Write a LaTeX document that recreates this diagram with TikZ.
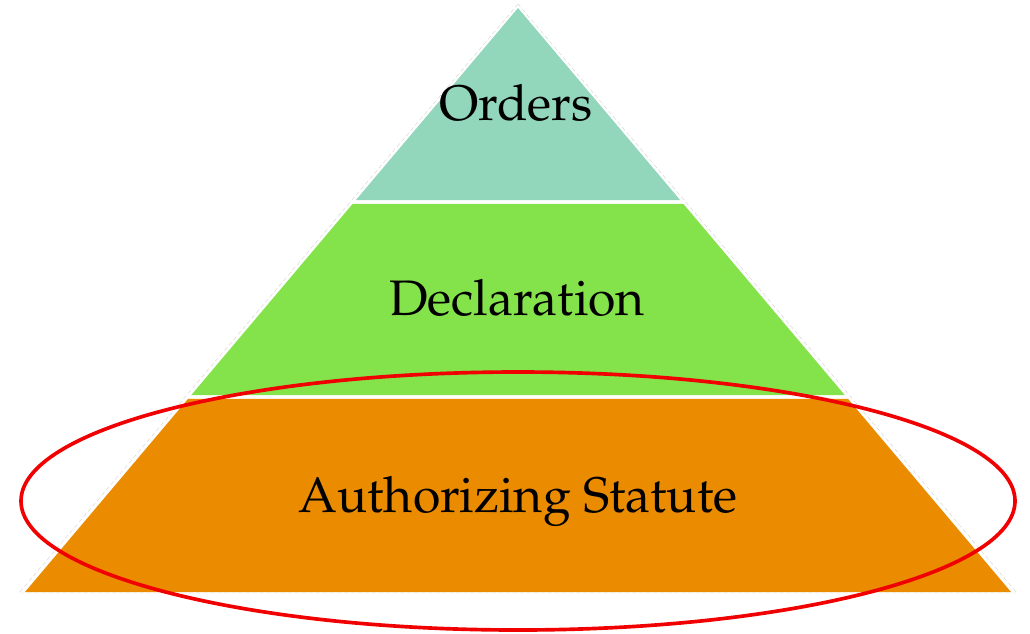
\documentclass[tikz,border=0pt]{standalone}
\usepackage[T1]{fontenc}
\usepackage{mathpazo}
\usepackage{tikz}
\usetikzlibrary{calc}

\definecolor{ordersmint}{RGB}{146,214,188}
\definecolor{declgreen}{RGB}{132,226,74}
\definecolor{statorange}{RGB}{234,139,0}
\definecolor{ringred}{RGB}{240,0,0}

\tikzset{
  layertext/.style={anchor=base, font=\fontsize{35.5}{38}\selectfont, text=black},
  outline/.style={draw=gray!35, line width=0.3pt, densely dashed}
}

\begin{document}
\begin{tikzpicture}[x=0.025cm, y=-0.025cm]
\useasboundingbox (0,0) rectangle (1030,633);
% corners of the pyramid
\coordinate (apex) at (518,8);
\coordinate (bl) at (25,592);
\coordinate (br) at (1011,592);
% faint outer edge
\draw[outline] (518,4) -- (19,593) -- (1017,593) -- cycle;
% top layer
\fill[ordersmint] (apex) -- ($(apex)!0.3288!(br)$) -- ($(apex)!0.3288!(bl)$) -- cycle;
% middle layer
\fill[declgreen] ($(apex)!0.3356!(bl)$) -- ($(apex)!0.3356!(br)$) -- ($(apex)!0.6627!(br)$) -- ($(apex)!0.6627!(bl)$) -- cycle;
% bottom layer
\fill[statorange] ($(apex)!0.6695!(bl)$) -- ($(apex)!0.6695!(br)$) -- (br) -- (bl) -- cycle;
\node[layertext] (orders) at (516,120) {Orders};
\node[layertext] (declaration) at (517,315) {Declaration};
\node[layertext] (statute) at (518,512) {Authorizing Statute};
% red ring round the bottom layer
\draw[ringred, line width=2.6pt] (518,501) ellipse (497 and 129);
\end{tikzpicture}
\end{document}
